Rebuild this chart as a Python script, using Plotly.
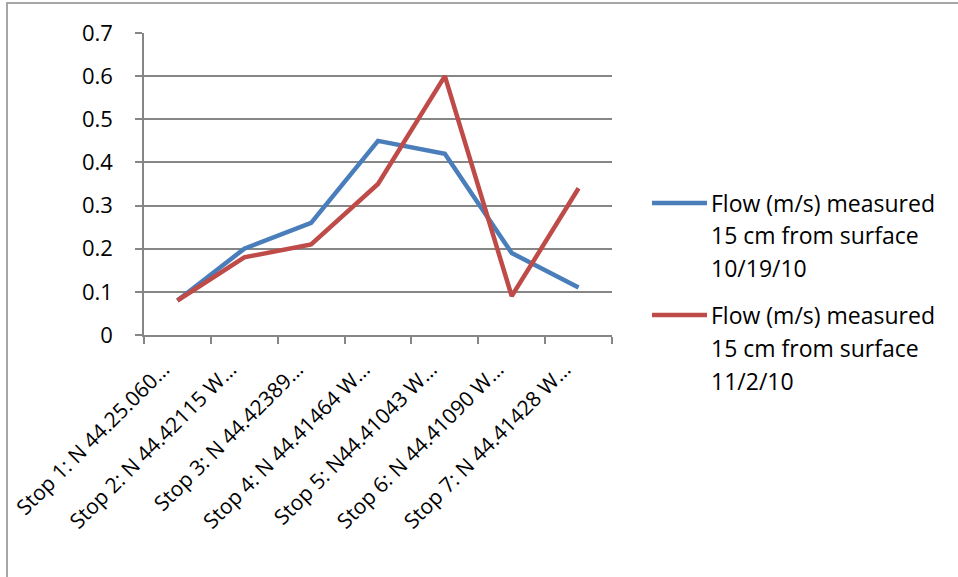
import plotly.graph_objects as go

# Sampling stops along the stream (labels truncated as on the axis)
stops = [
    "Stop 1: N 44.25.060…",
    "Stop 2: N 44.42115 W…",
    "Stop 3: N 44.42389…",
    "Stop 4: N 44.41464 W…",
    "Stop 5: N44.41043 W…",
    "Stop 6: N 44.41090 W…",
    "Stop 7: N 44.41428 W…",
]

# Flow velocity (m/s) measured 15 cm below the surface
flow_oct19 = [0.08, 0.20, 0.26, 0.45, 0.42, 0.19, 0.11]
flow_nov2 = [0.08, 0.18, 0.21, 0.35, 0.60, 0.09, 0.34]

series_names = [
    ["Flow (m/s) measured", "15 cm from surface", "10/19/10"],
    ["Flow (m/s) measured", "15 cm from surface", "11/2/10"],
]
series_colors = ["#4A7EBB", "#BE4B48"]

y_ticks = [0, 0.1, 0.2, 0.3, 0.4, 0.5, 0.6, 0.7]
y_tick_text = ["0", "0.1", "0.2", "0.3", "0.4", "0.5", "0.6", "0.7"]

FONT = "Open Sans"
GRID = "#868686"

fig = go.Figure()
for vals, names, color in zip([flow_oct19, flow_nov2], series_names, series_colors):
    fig.add_trace(go.Scatter(
        x=stops, y=vals, mode="lines", name=" ".join(names),
        line=dict(color=color, width=4.5), showlegend=False,
    ))

# Plot area spans 468 x 302 px; helpers convert pixel offsets to paper units
W, H, L, T = 468.0, 302.0, 144.0, 33.0
def px_x(px):
    return (px - L) / W
def px_y(py):
    return (T + H - py) / H

shapes = [
    # outer chart frame
    dict(type="rect", xref="paper", yref="paper",
         x0=px_x(7), x1=px_x(1000), y0=px_y(3), y1=px_y(620),
         line=dict(color="#A6A6A6", width=2), fillcolor="rgba(0,0,0,0)", layer="below"),
]
annotations = []

# legend: a line sample and three text rows per series
legend_rows = [[203, 235, 268], [315, 348, 381]]
for rows, names, color in zip(legend_rows, series_names, series_colors):
    shapes.append(dict(type="line", xref="paper", yref="paper",
                       x0=px_x(652), x1=px_x(707), y0=px_y(rows[0]), y1=px_y(rows[0]),
                       line=dict(color=color, width=4.5)))
    for row, text in zip(rows, names):
        annotations.append(dict(xref="paper", yref="paper", x=px_x(709), y=px_y(row),
                                xanchor="left", yanchor="middle", showarrow=False,
                                text=text, font=dict(family=FONT, size=23, color="#000")))

fig.update_layout(
    width=958, height=577,
    margin=dict(l=144, r=346, t=33, b=242),
    paper_bgcolor="white", plot_bgcolor="white",
    font=dict(family=FONT, size=21, color="#000"),
    shapes=shapes, annotations=annotations,
    xaxis=dict(
        type="category", tickangle=-45, showgrid=False, automargin=False,
        showline=True, linecolor=GRID, linewidth=1.5,
        ticks="outside", tickson="boundaries", ticklen=7, tickcolor=GRID, tickwidth=1.5,
        ticklabelstandoff=12, ticklabelshift=-14,
        tickfont=dict(family=FONT, size=21), range=[-0.5, 6.5],
    ),
    yaxis=dict(
        range=[0, 0.7], tickvals=y_ticks, ticktext=y_tick_text, automargin=False,
        showgrid=True, gridcolor=GRID, gridwidth=1.5, zeroline=False,
        showline=True, linecolor=GRID, linewidth=1.5,
        ticks="outside", ticklen=7, tickcolor=GRID, tickwidth=1.5,
        ticklabelstandoff=18, tickfont=dict(family=FONT, size=22),
    ),
)

fig.write_html("out.html")
